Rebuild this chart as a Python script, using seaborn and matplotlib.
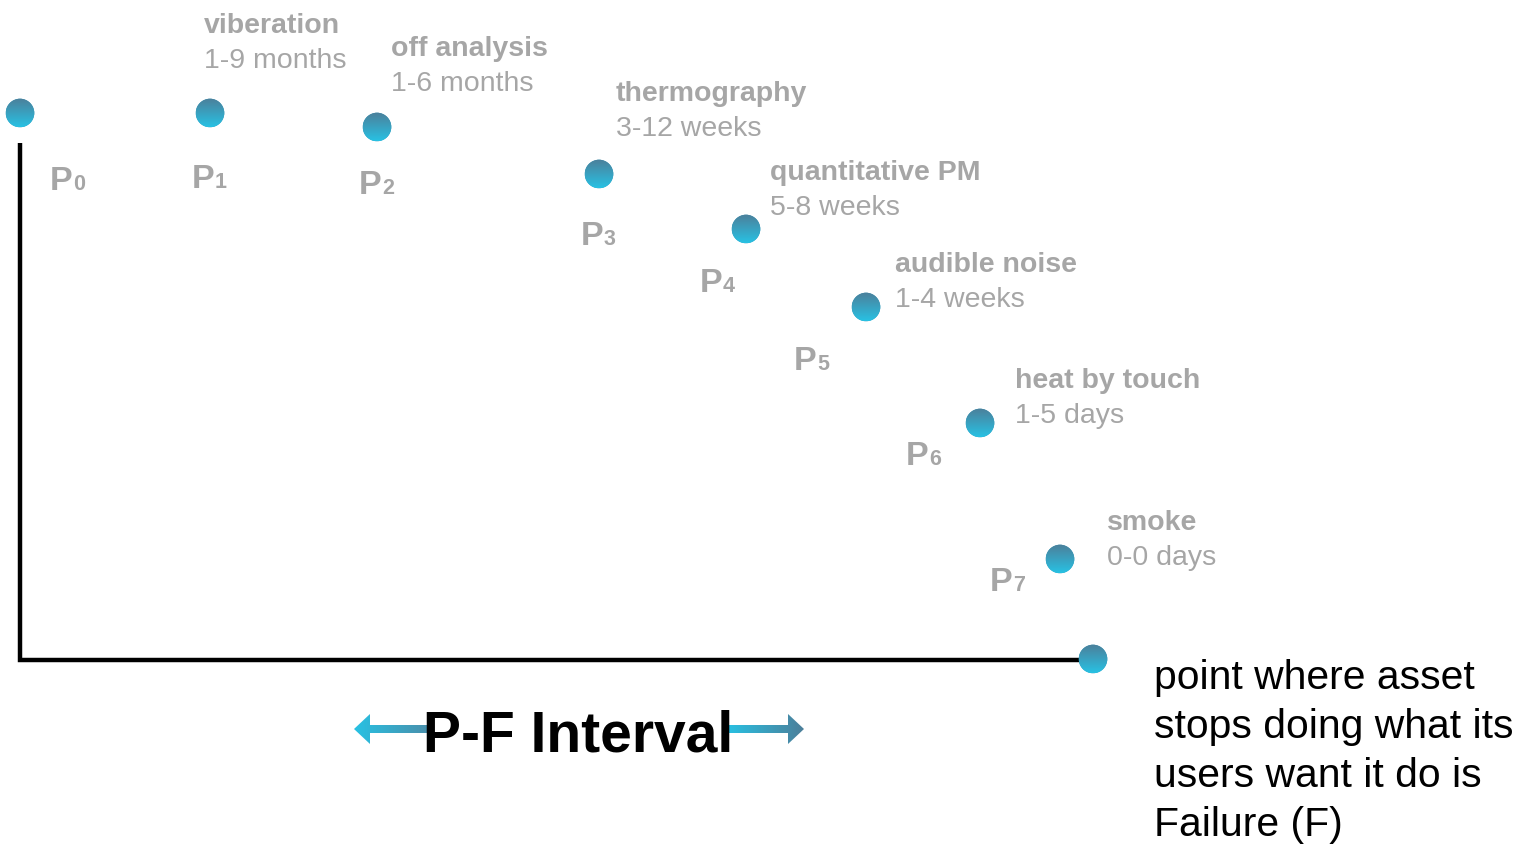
import numpy as np
import matplotlib
matplotlib.use("Agg")
import matplotlib.pyplot as plt
import seaborn as sns
import pandas as pd
from matplotlib.patches import Circle, FancyArrow
from matplotlib.colors import to_rgb

# ---------------- data ----------------
point_names = ["P0", "P1", "P2", "P3", "P4", "P5", "P6", "P7", "F"]
time_pos = [0, 190, 357, 579, 726, 846, 960, 1040, 1073]
condition = [547, 547, 533, 486, 431, 353, 237, 101, 1]
techniques = ["viberation", "off analysis", "thermography", "quantitative PM",
              "audible noise", "heat by touch", "smoke"]
intervals = ["1-9 months", "1-6 months", "3-12 weeks", "5-8 weeks",
             "1-4 weeks", "1-5 days", "0-0 days"]
failure_lines = ["point where asset", "stops doing what its",
                 "users want it do is", "Failure (F)"]
title_text = "P-F Interval"

# ---------------- layout / style ----------------
W, H, DPI = 1537, 844, 100
GRAY = "#a6a6a6"
TOP_C = "#4c7f9a"
BOT_C = "#28c1e3"
R = 14.3
# P label offsets (pixels, baseline), for P0..P7
p_off = [(30, -77), (-18, -75), (-18, -67), (-18, -71), (-46, -63),
         (-72, -63), (-74, -42), (-70, -32)]
# technique label offsets (pixels, bold line baseline)
t_off = [(-6, 80), (14, 71), (17, 73), (24, 49), (29, 35), (35, 35), (47, 29)]

sns.set_theme(style="white")
plt.rcParams['font.family'] = ['Liberation Sans', 'DejaVu Sans']

fig = plt.figure(figsize=(W / DPI, H / DPI), dpi=DPI)
ax = fig.add_axes([0, 0, 1, 1])
ax.set_axis_off()

df = pd.DataFrame({"name": point_names, "time": time_pos, "cond": condition})

# axis lines (L shape)
ax.plot([0, 0, df["time"].iloc[-1]], [517, 0, 0], color="black", lw=3.2,
        solid_capstyle="butt", solid_joinstyle="miter", zorder=1)

# points
sns.scatterplot(data=df, x="time", y="cond", ax=ax, s=(2 * R * 0.72) ** 2,
                color="#3aa0c0", edgecolor="none", legend=False, zorder=2)

# gradient overlay on the points
n = 64
c_top, c_bot = np.array(to_rgb(TOP_C)), np.array(to_rgb(BOT_C))
t = np.linspace(0, 1, n)[:, None]
grad_v = (c_bot * (1 - t) + c_top * t)[:, None, :]  # row0 bottom
for x, y in zip(df["time"], df["cond"]):
    im = ax.imshow(grad_v, extent=[x - R, x + R, y - R, y + R], origin="lower",
                   aspect="auto", zorder=3, interpolation="bilinear")
    circ = Circle((x, y), R, transform=ax.transData)
    im.set_clip_path(circ)

# P labels
for i, (x, y) in enumerate(zip(df["time"][:8], df["cond"][:8])):
    dx, dy = p_off[i]
    ax.annotate("P", xy=(x, y), xytext=(dx, dy), textcoords="offset pixels",
                fontsize=24.5, fontweight="bold", color=GRAY, ha="left", va="baseline")
    ax.annotate(point_names[i][1:], xy=(x, y), xytext=(dx + 23, dy),
                textcoords="offset pixels", fontsize=15.5, fontweight="bold",
                color=GRAY, ha="left", va="baseline")

# technique labels
for i, (x, y) in enumerate(zip(df["time"][1:8], df["cond"][1:8])):
    dx, dy = t_off[i]
    ax.annotate(techniques[i], xy=(x, y), xytext=(dx, dy), textcoords="offset pixels",
                fontsize=20.5, fontweight="bold", color=GRAY, ha="left", va="baseline")
    ax.annotate(intervals[i], xy=(x, y), xytext=(dx, dy - 35), textcoords="offset pixels",
                fontsize=20.5, color=GRAY, ha="left", va="baseline")

# failure description
fx, fy = df["time"].iloc[-1], df["cond"].iloc[-1]
for k, line in enumerate(failure_lines):
    ax.annotate(line, xy=(fx, fy), xytext=(61, -30 - 49 * k), textcoords="offset pixels",
                fontsize=29.4, color="black", ha="left", va="baseline")

# P-F interval title with arrows
ax.text(558, -92, title_text, fontsize=41, fontweight="bold", color="black",
        ha="center", va="baseline", zorder=6)


def grad_arrow(x0, dx, y0, left_col, right_col):
    arr = FancyArrow(x0, y0, dx, 0, width=8, head_width=30, head_length=16,
                     length_includes_head=True, facecolor="none", edgecolor="none")
    ax.add_patch(arr)
    g = np.linspace(0, 1, n)[None, :, None]
    lc, rc = np.array(to_rgb(left_col)), np.array(to_rgb(right_col))
    img = lc * (1 - g) + rc * g
    xa, xb = min(x0, x0 + dx), max(x0, x0 + dx)
    im = ax.imshow(img, extent=[xa, xb, y0 - 16, y0 + 16], origin="lower",
                   aspect="auto", zorder=4, interpolation="bilinear")
    im.set_clip_path(arr)


grad_arrow(410, -76, -69, BOT_C, "#4a8fab")
grad_arrow(706, 78, -69, BOT_C, TOP_C)

ax.set_xlim(-20, W - 20)
ax.set_ylim(660 - H, 660)

fig.savefig("out.png", dpi=DPI)
